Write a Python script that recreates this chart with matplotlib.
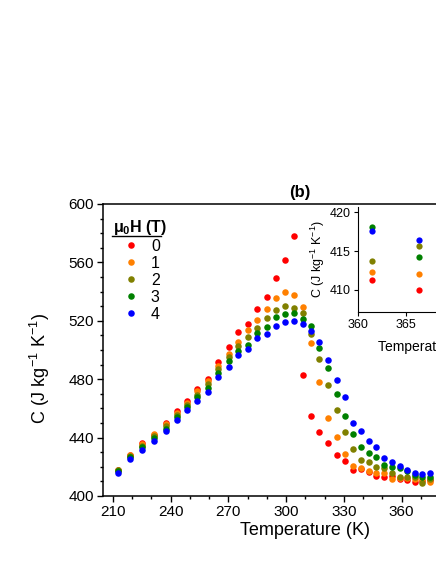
import numpy as np
import matplotlib
matplotlib.use('Agg')
import matplotlib.pyplot as plt

plt.rcParams['font.family'] = ['Liberation Sans', 'DejaVu Sans']
plt.rcParams['mathtext.fontset'] = 'custom'
plt.rcParams['mathtext.rm'] = 'Liberation Sans'
plt.rcParams['mathtext.it'] = 'Liberation Sans:italic'
plt.rcParams['mathtext.bf'] = 'Liberation Sans:bold'

# %% DATA
temperature = [212.6, 219.0, 225.3, 231.3, 237.4, 243.3, 248.7, 253.9, 259.6, 264.8,
               270.1, 275.2, 280.1, 284.9, 289.8, 294.6, 299.3, 304.0, 308.5, 312.7,
               317.1, 321.6, 326.2, 330.3, 334.5, 338.8, 342.9, 346.8, 351.0, 355.1,
               359.0, 362.9, 366.9, 370.7, 374.7]

c_0T = [417.5, 428.0, 436.3, 442.0, 450.0, 458.0, 465.0, 473.3, 480.4, 491.5,
        501.8, 512.5, 517.6, 528.1, 536.3, 549.0, 561.5, 578.2, 482.9, 454.8,
        444.0, 436.5, 428.1, 424.2, 417.8, 418.8, 416.6, 413.7, 412.8, 413.5,
        411.4, 411.0, 409.8, 410.5, 410.7]
c_1T = [418.0, 428.3, 435.5, 442.5, 449.0, 457.0, 464.0, 471.8, 478.8, 489.3,
        497.3, 505.3, 513.8, 520.8, 527.9, 535.8, 539.5, 537.7, 529.2, 504.7,
        477.9, 453.2, 440.6, 429.0, 420.5, 419.0, 417.2, 416.0, 415.5, 411.4,
        412.1, 412.1, 411.4, 411.0, 409.8]
c_2T = [417.6, 427.5, 434.5, 441.0, 447.8, 455.5, 462.5, 469.5, 476.5, 487.0,
        495.0, 503.0, 508.6, 515.3, 522.1, 527.5, 530.1, 529.0, 525.1, 510.8,
        493.8, 476.0, 458.9, 444.0, 432.0, 424.7, 423.5, 419.7, 419.5, 415.5,
        412.8, 413.2, 413.2, 409.1, 411.4]
c_3T = [417.2, 426.8, 433.3, 439.5, 446.0, 453.8, 461.0, 467.5, 474.0, 484.0,
        492.3, 499.3, 503.6, 511.5, 515.9, 522.5, 524.4, 525.4, 521.1, 516.5,
        501.2, 487.4, 469.6, 454.8, 442.2, 433.8, 429.7, 426.5, 421.5, 420.1,
        419.0, 417.0, 414.4, 413.2, 413.2]
c_4T = [415.7, 425.1, 431.7, 437.7, 444.3, 451.8, 459.1, 465.3, 471.0, 481.3,
        488.5, 496.7, 500.6, 508.1, 511.0, 516.7, 519.0, 519.7, 517.6, 513.0,
        505.7, 493.2, 479.5, 467.6, 450.2, 444.7, 437.9, 433.8, 425.8, 423.3,
        420.7, 417.8, 416.0, 415.0, 416.0]

fields = ['0', '1', '2', '3', '4']
colors = ['#ff0000', '#ff8000', '#808000', '#008000', '#0000ff']

# inset (zoom on the high temperature tail)
inset_temperature = [361.5, 366.3]
inset_0T = [411.3, 409.95]
inset_1T = [412.35, 412.1]
inset_2T = [413.7, 415.6]
inset_3T = [418.15, 414.2]
inset_4T = [417.6, 416.4]

series = [c_0T, c_1T, c_2T, c_3T, c_4T]
inset_series = [inset_0T, inset_1T, inset_2T, inset_3T, inset_4T]

# %% MAIN PLOT
fig = plt.figure(figsize=(4.36, 5.64), dpi=100)
ax = fig.add_axes([0.2369, 0.1206, 0.7727, 0.5177])

for c, lab, col in zip(series, fields, colors):
    ax.plot(temperature, c, 'o', ms=4.7, mec='none', color=col, label=lab)

ax.set_xlim(205, 380)
ax.set_ylim(400, 600)
ax.set_xticks(np.arange(210, 380, 30))
ax.set_xticks(np.arange(210, 380, 10), minor=True)
ax.set_yticks(np.arange(400, 601, 40))
ax.set_yticks(np.arange(400, 601, 10), minor=True)
ax.tick_params(which='major', direction='out', length=4.3, width=1, labelsize=11, pad=2.5)
ax.tick_params(which='minor', direction='out', length=2.2, width=1)
for s in ax.spines.values():
    s.set_linewidth(1.1)

ax.set_ylabel('C (J kg$^{-1}$ K$^{-1}$)', fontsize=13)
ax.yaxis.set_label_coords(-0.152, 0.435)
ax.set_xlabel('Temperature (K)', fontsize=13)
ax.xaxis.set_label_coords(0.599, -0.088)
ax.text(0.584, 1.041, '(b)', transform=ax.transAxes, ha='center', va='center',
        fontsize=12, fontweight='bold')

leg = ax.legend(title='μ$_\\mathbf{0}$H (T)', loc='upper left', bbox_to_anchor=(0.03, 0.952),
                frameon=False, fontsize=11.5, title_fontsize=11.5, handlelength=2.2,
                handletextpad=0.15, labelspacing=0.12, borderpad=0, borderaxespad=0,
                alignment='left')
leg.get_title().set_fontweight('bold')
ax.plot([0.026, 0.171], [0.890, 0.890], transform=ax.transAxes, color='k', lw=1, clip_on=False)

# %% INSET
axin = fig.add_axes([0.8204, 0.4463, 0.2218, 0.1867])
for c, col in zip(inset_series, colors):
    axin.plot(inset_temperature, c, 'o', ms=4.5, mec='none', color=col)
axin.set_xlim(360, 370)
axin.set_ylim(407.1, 420.7)
axin.set_xticks([360, 365])
axin.set_yticks([410, 415, 420])
axin.tick_params(direction='out', length=3, width=0.8, labelsize=9, pad=2)
axin.spines['top'].set_visible(False)
for s in axin.spines.values():
    s.set_linewidth(0.8)
axin.set_ylabel('C (J kg$^{-1}$ K$^{-1}$)', fontsize=9, labelpad=2)
axin.text(0.213, -0.327, 'Temperature (K)', transform=axin.transAxes, ha='left', va='center',
          fontsize=10)

fig.savefig('out.png', dpi=100)
